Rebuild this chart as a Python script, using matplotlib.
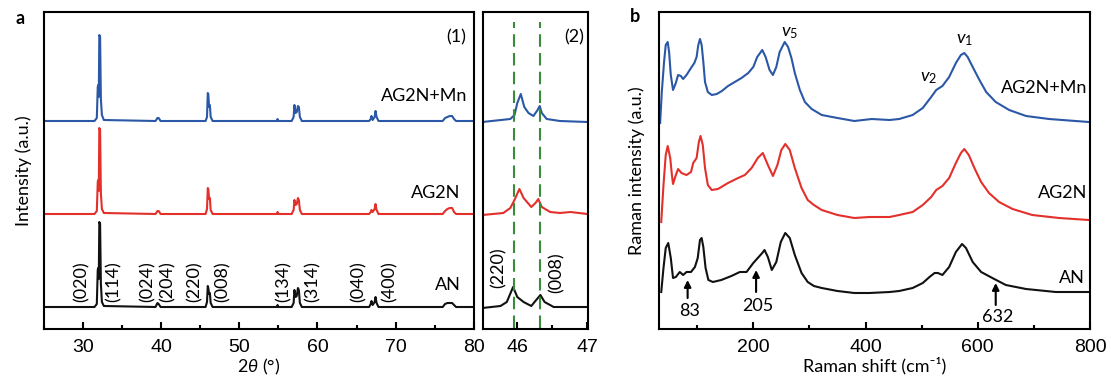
import matplotlib
matplotlib.use("Agg")
import matplotlib.pyplot as plt
from matplotlib.ticker import MultipleLocator

plt.rcParams['font.family'] = ['Lato', 'DejaVu Sans']
plt.rcParams['mathtext.fontset'] = 'custom'
plt.rcParams['mathtext.rm'] = 'Lato'
plt.rcParams['mathtext.it'] = 'Lato:italic'

# ---------------- data: XRD (panel a-1) ----------------
xrd_two_theta = [25.0, 31.5, 31.8, 31.92, 31.98, 32.05, 32.12, 32.22, 32.32, 32.45, 32.7,
                 39.3, 39.55, 39.7, 39.95,
                 45.7, 45.88, 45.98, 46.05, 46.15, 46.25, 46.35, 46.6,
                 54.8, 54.9, 55.0,
                 56.7, 56.95, 57.05, 57.2, 57.35, 57.5, 57.62, 57.75, 58.0,
                 66.6, 66.8, 66.9, 67.05, 67.3, 67.42, 67.55, 67.8,
                 76.0, 76.3, 76.6, 76.9, 77.2, 77.45, 77.7, 80.0]
xrd_ag2n_mn = [208, 208, 211, 242, 244, 232, 294, 292, 230, 214, 209,
               208, 211, 211, 208,
               208, 212, 236, 235, 222, 224, 212, 208,
               208, 210, 208,
               208, 212, 224, 216, 217, 223, 222, 212, 208,
               208, 210, 213, 209, 212, 218, 212, 208,
               208, 211, 212, 213, 213, 210, 208, 208]
xrd_ag2n = [115, 115, 118, 147, 149, 138, 201, 199, 136, 120, 116,
            115, 118, 118, 115,
            115, 120, 141, 140, 130, 131, 119, 115,
            115, 117, 115,
            115, 119, 129, 124, 125, 131, 129, 119, 115,
            115, 117, 119, 117, 120, 125, 119, 115,
            115, 118, 120, 121, 121, 117, 115, 115]
xrd_an = [22, 22, 25, 59, 61, 50, 107, 105, 45, 27, 23,
          22, 26, 25, 22,
          22, 27, 43, 41, 35, 36, 26, 22,
          22, 24, 22,
          22, 26, 39, 32, 33, 41, 39, 26, 22,
          22, 25, 28, 24, 27, 32, 26, 22,
          22, 25, 26, 26, 26, 24, 22, 22]
miller_labels = ['(020)', '(114)', '(024)', '(204)', '(220)', '(008)',
                 '(134)', '(314)', '(040)', '(400)']

# ---------------- data: XRD zoom (panel a-2) ----------------
zoom_tt_mn = [45.5, 45.9, 45.96, 46.0, 46.05, 46.1, 46.16, 46.23, 46.29, 46.32, 46.35, 46.42, 46.61, 47.0]
zoom_ag2n_mn = [207, 210, 214, 226, 235, 222, 216, 213, 219, 223, 216, 210, 208, 207]
zoom_tt_ag2n = [45.5, 45.8, 45.9, 45.96, 46.03, 46.09, 46.2, 46.26, 46.3, 46.35, 46.47, 46.61, 46.76, 47.0]
zoom_ag2n = [114, 116, 121, 129, 140, 131, 122, 126, 130, 122, 117, 116, 117, 115]
zoom_tt_an = [45.5, 45.76, 45.85, 45.94, 46.0, 46.09, 46.2, 46.27, 46.33, 46.39, 46.52, 47.0]
zoom_an = [21, 23, 27, 42, 32, 27, 23, 29, 34, 27, 22, 22]
ref_lines = [45.95, 46.33]

# ---------------- data: Raman (panel b) ----------------
raman_shift_mn = [34, 37, 41, 44, 47.5, 50, 53, 57, 62, 66, 71, 75, 81, 89, 95, 99, 102, 105, 108, 111,
                  114, 119, 126, 135, 144, 155, 167, 179, 191, 200, 207, 216, 222, 229, 235, 241, 247,
                  256, 262, 268, 274, 283, 292, 304, 322, 350, 380, 411, 443, 460, 484, 502, 517, 526,
                  537, 549, 561, 570, 576, 582, 591, 603, 615, 632, 656, 686, 727, 798]
raman_ag2n_mn = [206, 237, 267, 284, 287, 277, 254, 239, 246, 254, 253, 250, 254, 261, 266, 272, 284, 290,
                 284, 267, 247, 237, 234, 235, 238, 243, 247, 251, 256, 262, 272, 279, 272, 259, 254,
                 262, 277, 287, 282, 271, 256, 239, 227, 220, 214, 211, 208, 210, 209, 210, 214, 221,
                 232, 239, 243, 252, 266, 274, 276, 272, 262, 249, 237, 227, 219, 213, 210, 207]
raman_shift_ag2n = [36, 40, 44, 47.5, 52, 55, 57, 62, 66, 72, 81, 89, 93, 99, 103, 106, 110, 114, 119,
                    126, 137, 155, 173, 185, 197, 208, 217, 226, 235, 243, 250, 257, 265, 274, 286,
                    297, 308, 322, 350, 380, 407, 443, 460, 484, 502, 517, 526, 537, 549, 561, 570,
                    576, 584, 594, 606, 620, 638, 662, 697, 745, 798]
raman_ag2n = [107, 144, 174, 183, 171, 154, 145, 154, 160, 156, 154, 157, 166, 171, 187, 193, 184, 161,
              144, 139, 140, 146, 151, 154, 161, 171, 176, 164, 153, 164, 179, 185, 179, 161, 141,
              129, 124, 119, 114, 111, 112, 112, 114, 117, 124, 132, 139, 143, 151, 166, 176,
              180, 174, 161, 147, 136, 127, 120, 114, 111, 109]
raman_shift_an = [36, 40, 44, 48.5, 53, 57, 62, 69, 75, 81, 89, 96, 101, 105, 108, 111, 115, 120, 128,
                  143, 161, 176, 188, 200, 208, 216, 220, 226, 233, 241, 249, 257, 265, 274, 286, 297,
                  308, 322, 350, 380, 407, 443, 460, 484, 502, 514, 523, 529, 537, 549, 561, 572, 579,
                  591, 606, 626, 650, 686, 739, 798]
raman_an = [37, 61, 81, 86, 71, 51, 52, 57, 54, 57, 57, 62, 71, 89, 91, 82, 61, 49, 47, 49, 53, 57, 57,
            66, 71, 76, 79, 72, 59, 67, 87, 96, 91, 74, 56, 47, 43, 41, 38, 36, 36, 37, 38, 41, 46,
            52, 56, 56, 54, 62, 77, 85, 81, 67, 57, 51, 44, 40, 37, 37]
raman_marks = [83, 205, 632]

# ---------------- style ----------------
BLUE = '#2b58a6'
RED = '#e3302b'
BLACK = '#111111'
GREEN = '#3a8c3a'
LW = 1.5
SP = 1.5
FS = 13
TICKFONT = 'Liberation Sans'

W, H = 1111, 383
fig = plt.figure(figsize=(W / 100, H / 100), dpi=100)


def box(l, r, t=12, b=329):
    return [l / W, 1 - b / H, (r - l) / W, (b - t) / H]


ax1 = fig.add_axes(box(43.6, 474))
ax2 = fig.add_axes(box(483, 588))
ax3 = fig.add_axes(box(659, 1090))

for ax in (ax1, ax2, ax3):
    ax.set_ylim(0, 317)
    ax.set_yticks([])
    for s in ax.spines.values():
        s.set_linewidth(SP)
    ax.tick_params(axis='x', which='both', direction='in', top=False, labelsize=14, width=SP, pad=7)
    ax.tick_params(axis='x', which='major', length=5)
    ax.tick_params(axis='x', which='minor', length=3)

# panel a-1
ax1.plot(xrd_two_theta, xrd_ag2n_mn, color=BLUE, lw=LW)
ax1.plot(xrd_two_theta, xrd_ag2n, color=RED, lw=LW)
ax1.plot(xrd_two_theta, xrd_an, color=BLACK, lw=LW)
ax1.set_xlim(25, 80)
ax1.set_xticks([30, 40, 50, 60, 70, 80])
ax1.xaxis.set_minor_locator(MultipleLocator(5))
ax1.set_xlabel(r'2$\it{\theta}$ (°)', fontsize=FS, labelpad=1)
ax1.set_ylabel('Intensity (a.u.)', fontsize=FS)
ax1.yaxis.set_label_coords(-0.027, 0.5)
ax1.text(79, 292, '(1)', ha='right', va='center', fontsize=FS)
ax1.text(79.2, 233, 'AG2N+Mn', ha='right', va='center', fontsize=FS)
ax1.text(78.3, 136, 'AG2N', ha='right', va='center', fontsize=FS)
ax1.text(78.3, 44, 'AN', ha='right', va='center', fontsize=FS)
miller_x = [29.9, 33.9, 38.3, 40.9, 44.3, 47.9, 55.7, 59.4, 65.3, 69.2]
for mx, lab in zip(miller_x, miller_labels):
    ax1.text(mx, 47, lab, rotation=90, ha='center', va='center', fontsize=FS)

# panel a-2
ax2.plot(zoom_tt_mn, zoom_ag2n_mn, color=BLUE, lw=LW)
ax2.plot(zoom_tt_ag2n, zoom_ag2n, color=RED, lw=LW)
ax2.plot(zoom_tt_an, zoom_an, color=BLACK, lw=LW)
for xl in ref_lines:
    ax2.plot([xl, xl], [1, 307], color=GREEN, lw=LW, ls=(0, (6, 3)))
ax2.set_xlim(45.51, 47.01)
ax2.set_xticks([46, 47])
ax2.xaxis.set_minor_locator(MultipleLocator(0.5))
ax2.text(46.95, 292, '(2)', ha='right', va='center', fontsize=FS)
ax2.text(45.74, 61, '(220)', rotation=90, ha='center', va='center', fontsize=FS)
ax2.text(46.56, 56, '(008)', rotation=90, ha='center', va='center', fontsize=FS)

# panel b
ax3.plot(raman_shift_mn, raman_ag2n_mn, color=BLUE, lw=LW)
ax3.plot(raman_shift_ag2n, raman_ag2n, color=RED, lw=LW)
ax3.plot(raman_shift_an, raman_an, color=BLACK, lw=LW)
ax3.set_xlim(32, 800)
ax3.set_xticks([200, 400, 600, 800])
ax3.xaxis.set_minor_locator(MultipleLocator(100))
ax3.set_xlabel('Raman shift (cm⁻¹)', fontsize=FS, labelpad=1)
ax3.set_ylabel('Raman intensity (a.u.)', fontsize=FS)
ax3.yaxis.set_label_coords(-0.032, 0.5)
ax3.text(795, 241, 'AG2N+Mn', ha='right', va='center', fontsize=FS)
ax3.text(795, 136, 'AG2N', ha='right', va='center', fontsize=FS)
ax3.text(790, 51, 'AN', ha='right', va='center', fontsize=FS)
ax3.text(265, 296, r'$v_5$', ha='center', va='center', fontsize=FS)
ax3.text(577, 289, r'$v_1$', ha='center', va='center', fontsize=FS)
ax3.text(512, 251, r'$v_2$', ha='center', va='center', fontsize=FS)
mark_tail = [31, 37, 24]
mark_head = [49, 59, 46]
mark_text_y = [18, 23, 12]
for mx, t0, t1, ty in zip(raman_marks, mark_tail, mark_head, mark_text_y):
    ax3.annotate('', xy=(mx, t1), xytext=(mx, t0),
                 arrowprops=dict(arrowstyle='-|>', color='black', lw=1.5, mutation_scale=10,
                                 shrinkA=0, shrinkB=0))
    ax3.text(mx + 3, ty, str(mx), ha='center', va='center', fontsize=FS)

for ax in (ax1, ax2, ax3):
    for lab in ax.get_xticklabels():
        lab.set_fontfamily(TICKFONT)

fig.text(20 / W, 1 - 18 / H, 'a', fontsize=FS, fontweight='bold', ha='center', va='center')
fig.text(635 / W, 1 - 17 / H, 'b', fontsize=FS, fontweight='bold', ha='center', va='center')

fig.savefig('out.png', dpi=100)
